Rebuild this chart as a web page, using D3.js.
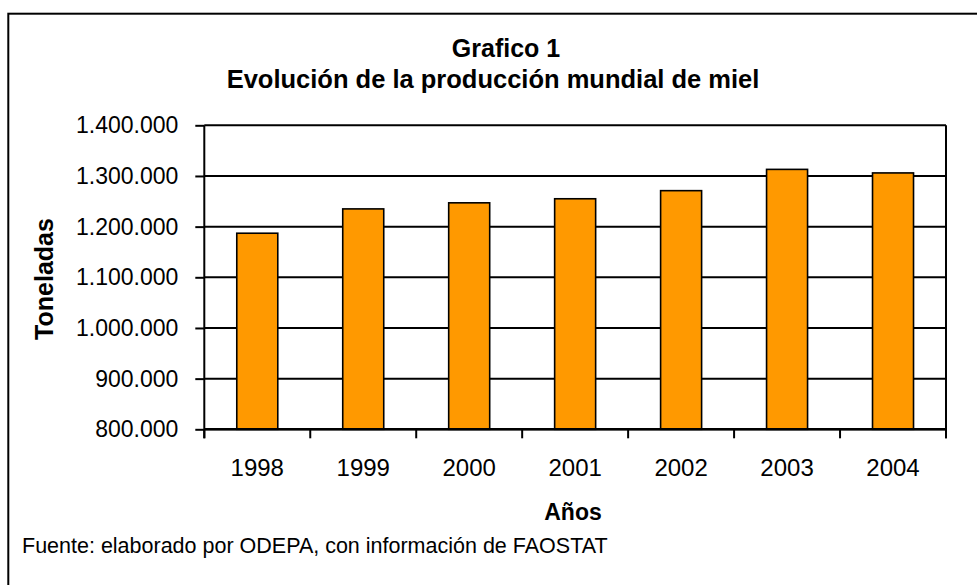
<html>
<head>
<script src="https://d3js.org/d3.v7.min.js"></script>
<style>
  body { margin: 0; background: #ffffff; }
  text { font-family: "Liberation Sans", Arial, sans-serif; fill: #000; }
</style>
</head>
<body>
<script>
// data
var years = ["1998", "1999", "2000", "2001", "2002", "2003", "2004"];
var toneladas = [1187000, 1235000, 1247000, 1255000, 1271000, 1313000, 1306000];
var yTicks = [800000, 900000, 1000000, 1100000, 1200000, 1300000, 1400000];

var titleLines = ["Grafico 1", "Evolución de la producción mundial de miel"];
var yTitle = "Toneladas";
var xTitle = "Años";
var sourceNote = "Fuente: elaborado por ODEPA, con información de FAOSTAT";

var width = 977;
var height = 585;
var plot = {left: 204.3, right: 946, top: 125.3, bottom: 429.3};

var locale = d3.formatLocale({decimal: ",", thousands: ".", grouping: [3], currency: ["$", ""]});
var fmt = locale.format(",d");

var svg = d3.select("body")
    .append("svg")
    .attr("width", width)
    .attr("height", height);

// outer frame (runs off the right and bottom edge)
svg.append("rect")
    .attr("x", 8.3)
    .attr("y", 13.7)
    .attr("width", 1200)
    .attr("height", 800)
    .attr("fill", "none")
    .attr("stroke", "#000")
    .attr("stroke-width", 2);

var xScale = d3.scaleBand()
    .domain(years)
    .range([plot.left, plot.right])
    .padding(0);

var yScale = d3.scaleLinear()
    .domain([800000, 1400000])
    .range([plot.bottom, plot.top]);

// gridlines
svg.append("g")
    .selectAll("line")
    .data(yTicks)
    .enter()
    .append("line")
    .attr("x1", plot.left)
    .attr("x2", plot.right)
    .attr("y1", function(d) { return yScale(d); })
    .attr("y2", function(d) { return yScale(d); })
    .attr("stroke", "#000")
    .attr("stroke-width", 2);

// right border of plot
svg.append("line")
    .attr("x1", plot.right)
    .attr("x2", plot.right)
    .attr("y1", plot.top)
    .attr("y2", plot.bottom + 9)
    .attr("stroke", "#000")
    .attr("stroke-width", 2);

// bars
var barW = xScale.bandwidth() * 0.387;
svg.append("g")
    .selectAll("rect")
    .data(years)
    .enter()
    .append("rect")
    .attr("x", function(d) { return xScale(d) + (xScale.bandwidth() - barW) / 2; })
    .attr("y", function(d, i) { return yScale(toneladas[i]); })
    .attr("width", barW)
    .attr("height", function(d, i) { return yScale(800000) - yScale(toneladas[i]); })
    .attr("fill", "#FF9900")
    .attr("stroke", "#000")
    .attr("stroke-width", 1.6);

// y axis
var yAxis = d3.axisLeft(yScale)
    .tickValues(yTicks)
    .tickFormat(fmt)
    .tickSize(9)
    .tickPadding(17);

var gy = svg.append("g")
    .attr("transform", "translate(" + plot.left + ",0)")
    .call(yAxis);
gy.select(".domain").remove();
gy.append("line")
    .attr("x1", 0).attr("x2", 0)
    .attr("y1", plot.top).attr("y2", plot.bottom + 9)
    .attr("stroke", "#000")
    .attr("stroke-width", 2);
gy.selectAll(".tick line").attr("stroke", "#000").attr("stroke-width", 2);
gy.selectAll(".tick text")
    .attr("font-size", 23)
    .attr("font-family", "Liberation Sans, Arial, sans-serif")
    .attr("fill", "#000");

// x axis: ticks at category boundaries
var boundaries = years.map(function(d) { return xScale(d); }).concat([plot.right]);
svg.append("line")
    .attr("x1", plot.left)
    .attr("x2", plot.right)
    .attr("y1", plot.bottom)
    .attr("y2", plot.bottom)
    .attr("stroke", "#000")
    .attr("stroke-width", 2.5);
svg.append("g")
    .selectAll("line")
    .data(boundaries)
    .enter()
    .append("line")
    .attr("x1", function(d) { return d; })
    .attr("x2", function(d) { return d; })
    .attr("y1", plot.bottom)
    .attr("y2", plot.bottom + 9)
    .attr("stroke", "#000")
    .attr("stroke-width", 2);

svg.append("g")
    .selectAll("text")
    .data(years)
    .enter()
    .append("text")
    .attr("x", function(d) { return xScale(d) + xScale.bandwidth() / 2; })
    .attr("y", 476)
    .attr("text-anchor", "middle")
    .attr("font-size", 24)
    .text(function(d) { return d; });

// titles
var labels = svg.append("g");
labels.append("text")
    .attr("x", 506)
    .attr("y", 57)
    .attr("text-anchor", "middle")
    .attr("font-size", 25)
    .attr("font-weight", "bold")
    .text(titleLines[0]);
labels.append("text")
    .attr("x", 493)
    .attr("y", 88)
    .attr("text-anchor", "middle")
    .attr("font-size", 25.5)
    .attr("font-weight", "bold")
    .text(titleLines[1]);

labels.append("text")
    .attr("transform", "translate(53,279) rotate(-90)")
    .attr("text-anchor", "middle")
    .attr("font-size", 25)
    .attr("font-weight", "bold")
    .text(yTitle);

labels.append("text")
    .attr("x", 573)
    .attr("y", 520)
    .attr("text-anchor", "middle")
    .attr("font-size", 23)
    .attr("font-weight", "bold")
    .text(xTitle);

labels.append("text")
    .attr("x", 22)
    .attr("y", 553)
    .attr("font-size", 21.5)
    .text(sourceNote);
</script>
</body>
</html>
